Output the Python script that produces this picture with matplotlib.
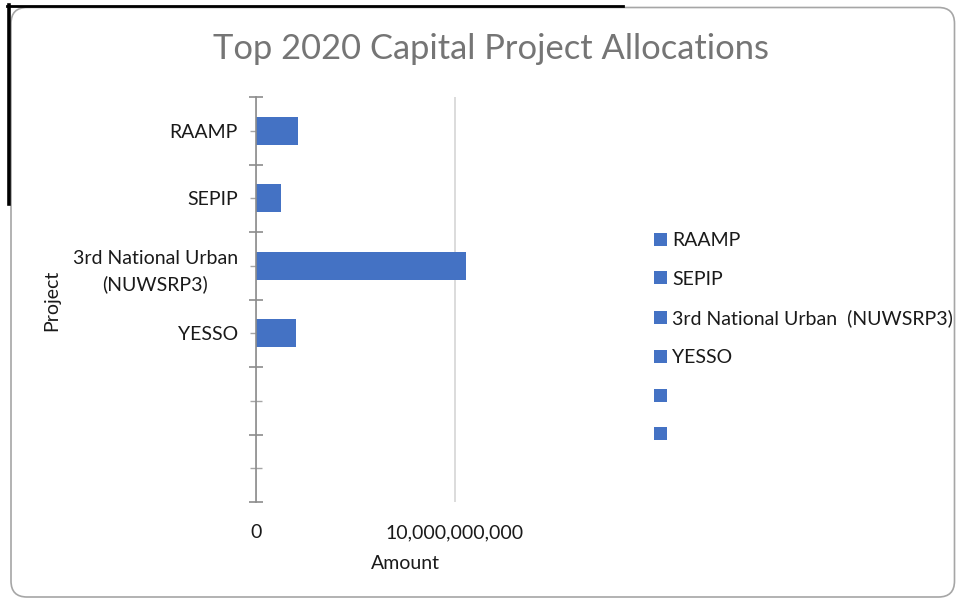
import matplotlib.pyplot as plt
from matplotlib.patches import FancyBboxPatch, Patch
from matplotlib.lines import Line2D
from matplotlib.ticker import FuncFormatter

# ── Data ──────────────────────────────────────────────────────────────────────
projects = ["RAAMP", "SEPIP", "3rd National Urban\n(NUWSRP3)", "YESSO", "", ""]
legend_labels = ["RAAMP", "SEPIP", "3rd National Urban  (NUWSRP3)", "YESSO", "", ""]
amounts = [2.11e9, 1.25e9, 1.057e10, 2.01e9, 0, 0]
x_ticks = [0, 1e10]

BAR_COLOR = "#4472C4"
TEXT_COLOR = "#1a1a1a"

plt.rcParams['font.family'] = ['Lato', 'DejaVu Sans']

W, H = 957, 600
fig = plt.figure(figsize=(W / 100, H / 100), dpi=100)

# ── Frame (rounded border + black selection edge) ─────────────────────────────
bg = fig.add_axes([0, 0, 1, 1], zorder=0)
bg.set_xlim(0, W)
bg.set_ylim(H, 0)
bg.axis("off")
bg.add_patch(FancyBboxPatch((11, 7.5), 943.5, 589.5,
                            boxstyle="round,pad=0,rounding_size=16",
                            facecolor="white", edgecolor="#a6a6a6", linewidth=1.2))
bg.add_line(Line2D([7, 623], [5.5, 5.5], color="black", linewidth=2))
bg.add_line(Line2D([8.8, 8.8], [5, 204], color="black", linewidth=2.6))

# ── Main chart ────────────────────────────────────────────────────────────────
ax = fig.add_axes([256 / W, 1 - 502 / H, 298 / W, 405 / H], zorder=1)
ax.patch.set_alpha(0)

pos = list(range(len(projects)))
ax.barh(pos, amounts, height=0.414, color=BAR_COLOR, linewidth=0, zorder=3)

ax.set_ylim(len(projects) - 0.5, -0.5)
ax.set_xlim(0, 1.5e10)

ax.set_yticks(pos)
ax.set_yticklabels(projects, fontsize=14, color=TEXT_COLOR,
                   multialignment="center", linespacing=1.6)
ax.set_yticks([p - 0.5 for p in range(len(projects) + 1)], minor=True)
ax.tick_params(axis="y", which="major", direction="inout", length=8,
               width=1, color="#a6a6a6", pad=9)
ax.tick_params(axis="y", which="minor", direction="inout", length=9.5,
               width=1.2, color="#8c8c8c")

ax.set_xticks(x_ticks)
ax.xaxis.set_major_formatter(FuncFormatter(lambda v, _: f"{v:,.0f}"))
ax.tick_params(axis="x", length=0, labelsize=14, labelcolor=TEXT_COLOR, pad=16)
ax.grid(axis="x", color="#d9d9d9", linewidth=1.3, zorder=0)
ax.xaxis.grid(True)
ax.yaxis.grid(False)

for side in ["top", "right", "bottom"]:
    ax.spines[side].set_visible(False)
ax.spines["left"].set_color("#8c8c8c")
ax.spines["left"].set_linewidth(1.2)
ax.spines["left"].set_zorder(4)

ax.set_xlabel("Amount", fontsize=14, color=TEXT_COLOR, labelpad=10)
fig.text(52 / W, 1 - 300 / H, "Project", rotation=90, fontsize=14,
         color=TEXT_COLOR, ha="center", va="center")

fig.text(491 / W, 1 - 49 / H, "Top 2020 Capital Project Allocations",
         fontsize=24.8, color="#757575", ha="center", va="center")

# ── Legend ────────────────────────────────────────────────────────────────────
handles = [Patch(facecolor=BAR_COLOR, edgecolor="none") for _ in legend_labels]
fig.legend(handles, legend_labels, loc="upper left",
           bbox_to_anchor=(654 / W, 1 - 232 / H), frameon=False,
           fontsize=14, handlelength=0.65, handleheight=0.65,
           handletextpad=0.3, labelspacing=1.12, borderpad=0,
           borderaxespad=0, labelcolor=TEXT_COLOR)

fig.savefig("out.png", dpi=100)
